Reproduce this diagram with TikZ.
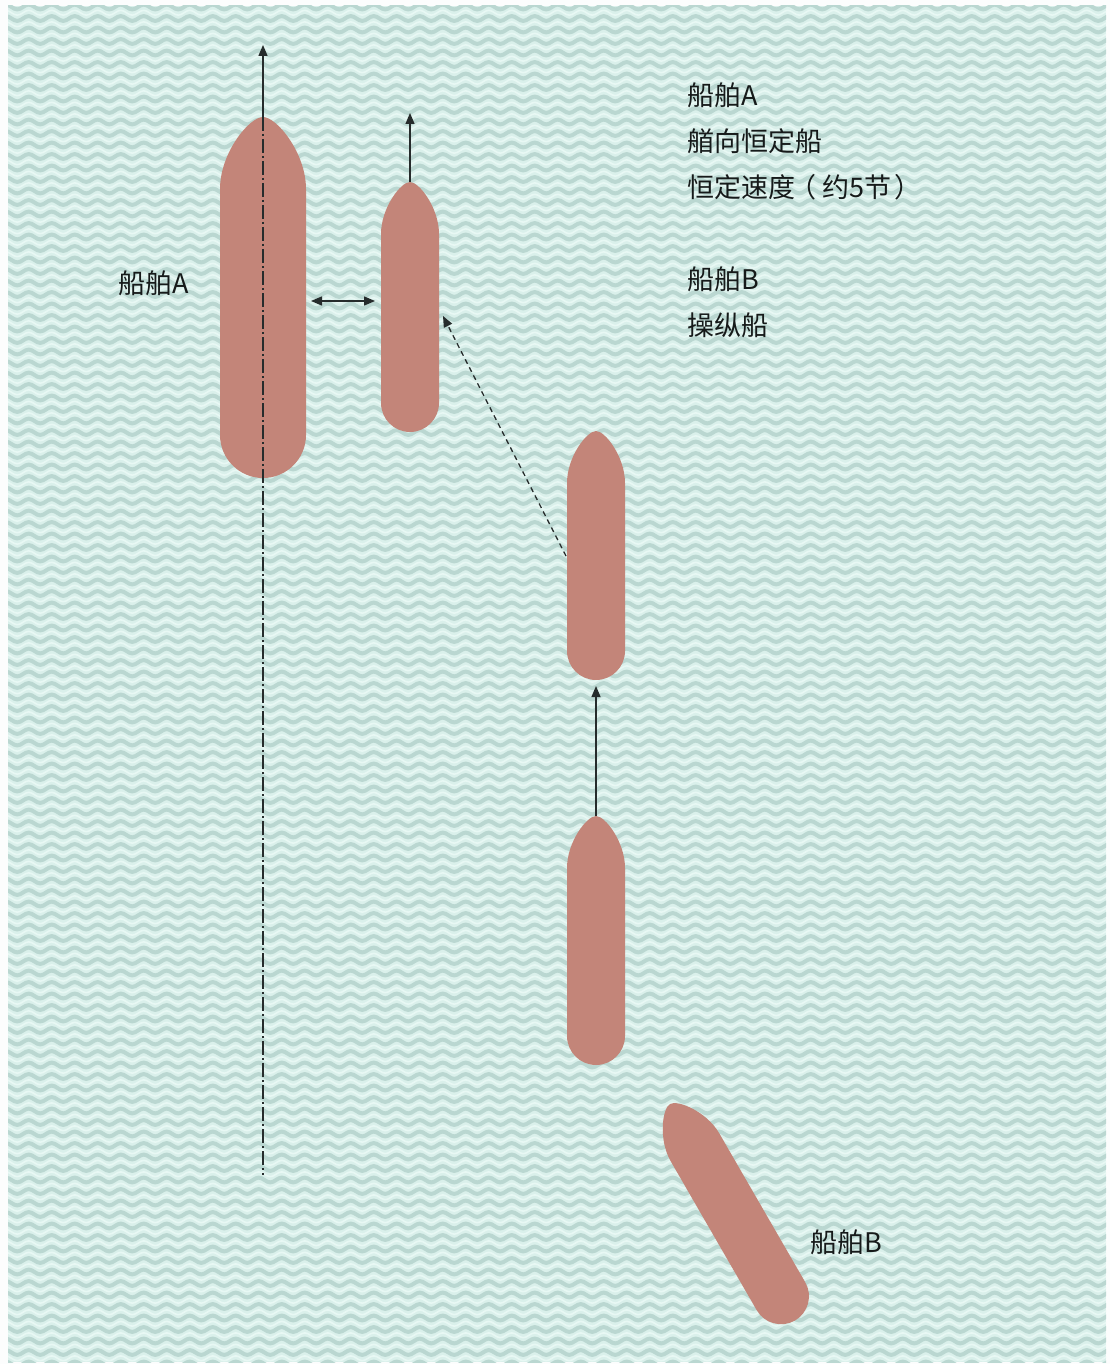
\documentclass[tikz,border=0pt]{standalone}
\usepackage{fontspec}
\setmainfont{Noto Sans CJK SC}
\usetikzlibrary{arrows.meta}

\definecolor{paper}{RGB}{252,253,253}
\definecolor{sea}{RGB}{218,240,235}
\definecolor{wave}{RGB}{186,215,209}
\definecolor{foam}{RGB}{232,248,244}
\definecolor{hull}{RGB}{195,133,121}
\definecolor{ink}{RGB}{38,44,44}
\definecolor{textink}{RGB}{22,26,26}

% hull outline: bow tip at (0,0), stern toward +y
% #1 beam, #2 length, #3 bow length
\newcommand\hullshape[3]{%
  \fill[hull] (-#1/2,#3)
    .. controls (-#1/2,0.5*#3) and (-0.16*#1,0) .. (0,0)
    .. controls (0.16*#1,0) and (#1/2,0.5*#3) .. (#1/2,#3)
    -- (#1/2,#2-#1/2)
    .. controls (#1/2,#2-0.225*#1) and (0.275*#1,#2) .. (0,#2)
    .. controls (-0.275*#1,#2) and (-#1/2,#2-0.225*#1) .. (-#1/2,#2-#1/2)
    -- cycle;}

\tikzset{
  label/.style={font=\fontsize{27}{31}\selectfont, text=textink, inner sep=0pt},
  course/.style={ink, line width=1.3, -{Triangle[length=11pt,width=9pt]}},
  centre/.style={ink, line width=1.3, dash pattern=on 14pt off 3pt on 2pt off 3pt},
}

\begin{document}
\begin{tikzpicture}[x=1pt,y=-1pt]
\useasboundingbox (0,0) rectangle (1110,1364);
\fill[paper] (0,0) rectangle (1110,1364);

% sea with wave texture
\fill[sea] (8,6) rectangle (1106,1362);
\begin{scope}
  \clip (8,6) rectangle (1106,1362);
  \foreach \r in {0,...,118}{
    \draw[wave, line width=4] (0,{7+11.5*\r})
      \foreach \k in {0,...,48}{ sin ++(5.75,-2.4) cos ++(5.75,2.4) sin ++(5.75,2.4) cos ++(5.75,-2.4) };
    \draw[foam, line width=1.6] (0,{12.75+11.5*\r})
      \foreach \k in {0,...,48}{ sin ++(5.75,-2.4) cos ++(5.75,2.4) sin ++(5.75,2.4) cos ++(5.75,-2.4) };
  }
\end{scope}

% ships
\begin{scope}[shift={(263,117)}] \hullshape{86}{361}{72} \end{scope}
\begin{scope}[shift={(410,182)}] \hullshape{58}{250}{52} \end{scope}
\begin{scope}[shift={(596,431)}] \hullshape{58}{249}{52} \end{scope}
\begin{scope}[shift={(596,816)}] \hullshape{58}{249}{52} \end{scope}
\begin{scope}[shift={(670,1104)},rotate=30] \hullshape{56}{250}{50} \end{scope}

% reference points
\coordinate (Abow) at (263,117);
\coordinate (Ahead) at (263,45);
\coordinate (Atail) at (263,1175);
\coordinate (B1bow) at (410,182);
\coordinate (B1head) at (410,113);
\coordinate (gapL) at (311,301);
\coordinate (gapR) at (375,301);
\coordinate (B2side) at (566,556);
\coordinate (B1side) at (443,316);
\coordinate (B3bow) at (596,816);
\coordinate (B3head) at (596,686);

% courses and distances
\draw[centre] (Abow) -- (Atail);
\draw[course] (Abow) -- (Ahead);
\draw[course] (B1bow) -- (B1head);
\draw[ink, line width=1.3, {Triangle[length=11pt,width=9pt]}-{Triangle[length=11pt,width=9pt]}] (gapL) -- (gapR);
\draw[course, dash pattern=on 5pt off 4pt] (B2side) -- (B1side);
\draw[course] (B3bow) -- (B3head);

% labels
\node[label] (labA) at (154,283) {船舶A};
\node[label, anchor=west] (labB) at (810,1242) {船舶B};
\node[label, anchor=west] (t1) at (687,95) {船舶A};
\node[label, anchor=west] (t2) at (687,141) {艏向恒定船};
\node[label, anchor=west] (t3) at (687,187) {恒定速度\hspace{-6pt}（\hspace{6pt}约5节\hspace{3pt}）};
\node[label, anchor=west] (t4) at (687,279) {船舶B};
\node[label, anchor=west] (t5) at (687,325) {操纵船};
\end{tikzpicture}
\end{document}
